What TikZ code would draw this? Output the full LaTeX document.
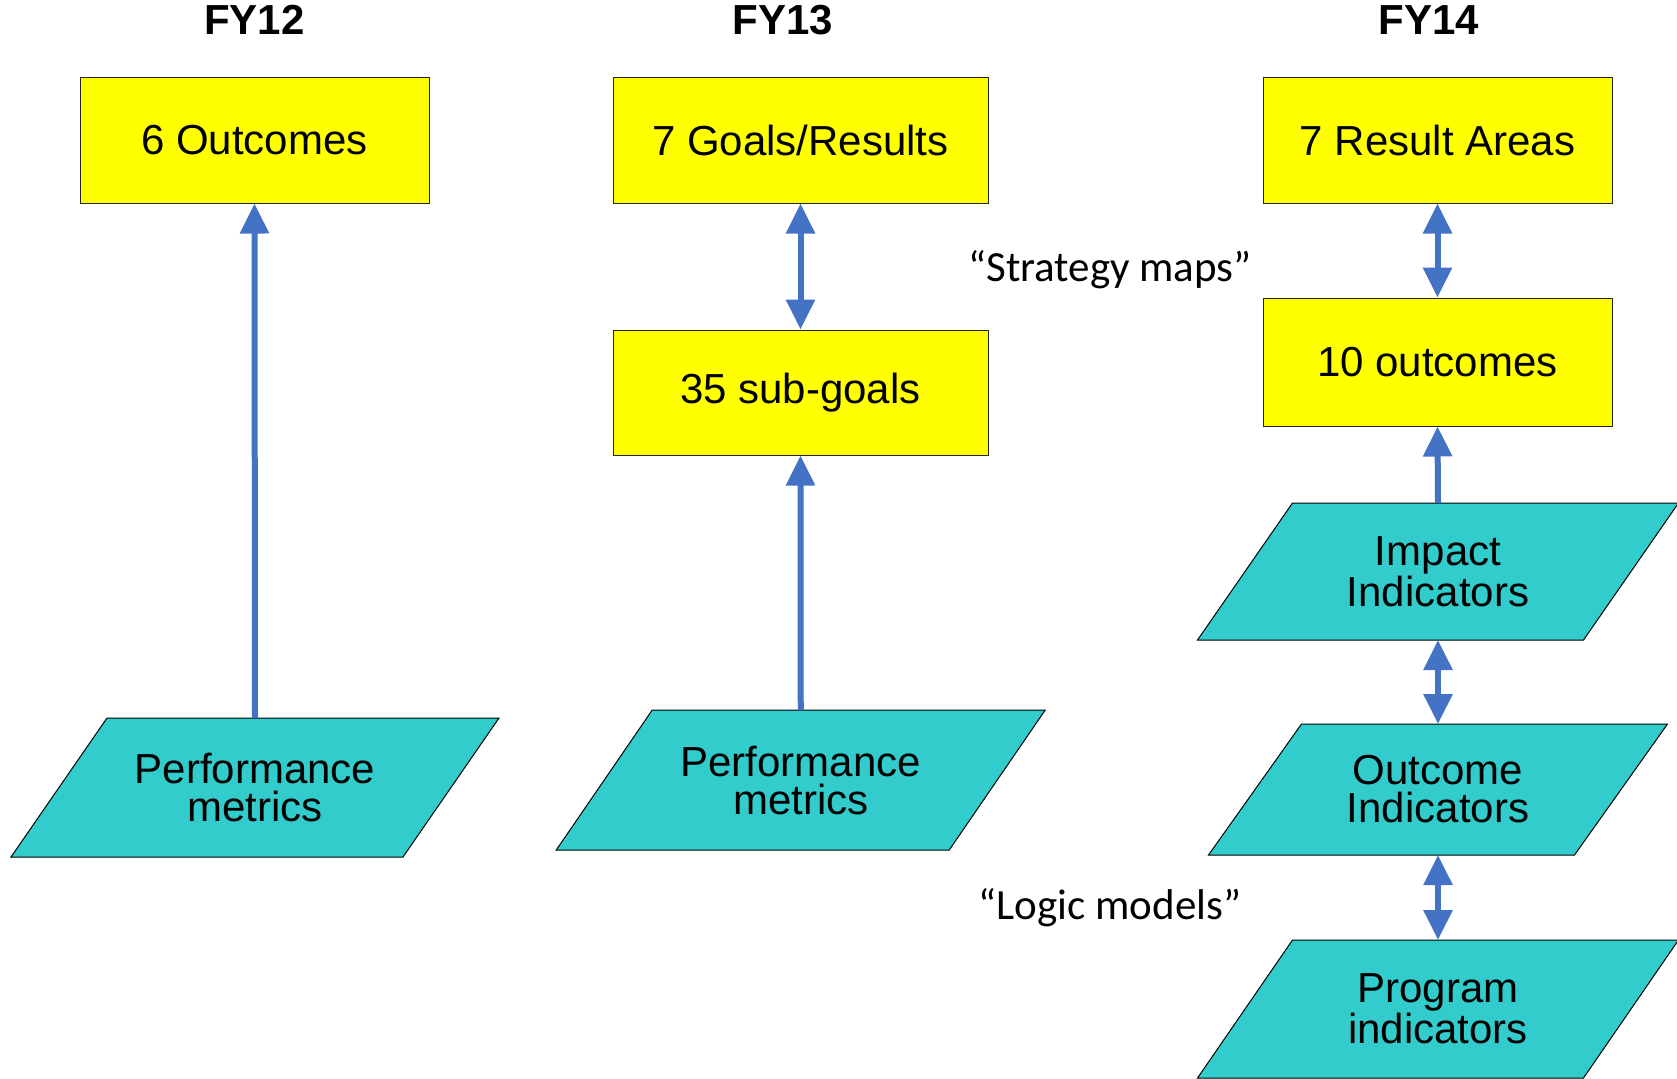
\documentclass[tikz,border=0pt]{standalone}
\usepackage{fontspec}
\setmainfont{Liberation Sans}
\newfontfamily\notefont{Carlito}
\usepackage{xcolor}
\usepackage{tikz}
\usetikzlibrary{positioning, arrows.meta, shapes.geometric, backgrounds}

\definecolor{goalyellow}{RGB}{255,255,0}
\definecolor{metricteal}{RGB}{51,204,204}
\definecolor{linkblue}{RGB}{68,114,196}

\begin{document}
\begin{tikzpicture}[x=0.5pt, y=-0.5pt,
    >={Triangle[width=14pt,length=15pt]},
    goal/.style={draw=black!85, line width=0.5pt, fill=goalyellow, minimum height=63pt,
        font=\fontsize{21}{19}\selectfont},
    metric/.style={inner sep=0pt, outer sep=0pt, align=center,
        font=\fontsize{21}{19}\selectfont},
    metricfill/.style={draw=black, line width=0.5pt, fill=metricteal},
    link/.style={draw=linkblue, line width=3pt},
    year/.style={font=\fontsize{21}{21}\selectfont\bfseries},
    note/.style={font=\fontsize{21.5}{21.5}\notefont}]

\useasboundingbox (0,0) rectangle (1677,1078);

% Years
\node[year] (fy12) at (254.5, 20) {FY12};
\node[year] (fy13) at (783, 20) {FY13};
\node[year] (fy14) at (1429, 20) {FY14};

% FY12
\node[goal, minimum width=174.5pt] (out12) at (254.5, 140) {6 Outcomes};
\node[metric, minimum width=196pt, minimum height=69.5pt] (perf12) at (255, 787.5) {Performance\\metrics};

% FY13
\node[goal, minimum width=187.5pt] (goal13) at (800.5, 140) {7 Goals/Results};
\node[goal, minimum width=187.5pt, minimum height=62.5pt] (sub13) at (800.5, 392.5) {35 sub-goals};
\node[metric, minimum width=196.5pt, minimum height=70pt] (perf13) at (800.75, 780) {Performance\\metrics};

% FY14
\node[goal, minimum width=174.5pt] (area14) at (1437.5, 140) {7 Result Areas};
\node[goal, minimum width=174.5pt, minimum height=64pt] (out14) at (1437.5, 362) {10 outcomes};
\node[metric, minimum width=193pt, minimum height=68.5pt] (impact14) at (1438, 571.5) {Impact\\Indicators};
\node[metric, minimum width=183pt, minimum height=65.5pt] (outind14) at (1438, 789.5) {Outcome\\Indicators};
\node[metric, minimum width=193pt, minimum height=69pt] (prog14) at (1438, 1009) {Program\\indicators};

% Parallelograms behind the metric nodes
\begin{pgfonlayer}{background}
\foreach \n/\s in {perf12/24pt, perf13/24pt, impact14/23.75pt, outind14/23.25pt, prog14/23.75pt}
    \draw[metricfill] ([xshift=-\s]\n.south west) -- ([xshift=-\s]\n.south east)
        -- ([xshift=\s]\n.north east) -- ([xshift=\s]\n.north west) -- cycle;
\end{pgfonlayer}

% Notes
\node[note] (strategy) at (1110, 269.5) {“Strategy maps”};
\node[note] (logic) at (1110, 908) {“Logic models”};

% Links
\draw[link, ->] (perf12.north) -- (out12.south);
\draw[link, <->] (goal13.south) -- (sub13.north);
\draw[link, ->] (perf13.north) -- (sub13.south);
\draw[link, <->] (area14.south) -- (out14.north);
\draw[link, ->] (impact14.north) -- (out14.south);
\draw[link, <->] (impact14.south) -- (outind14.north);
\draw[link, <->] (outind14.south) -- (prog14.north);

\end{tikzpicture}
\end{document}
